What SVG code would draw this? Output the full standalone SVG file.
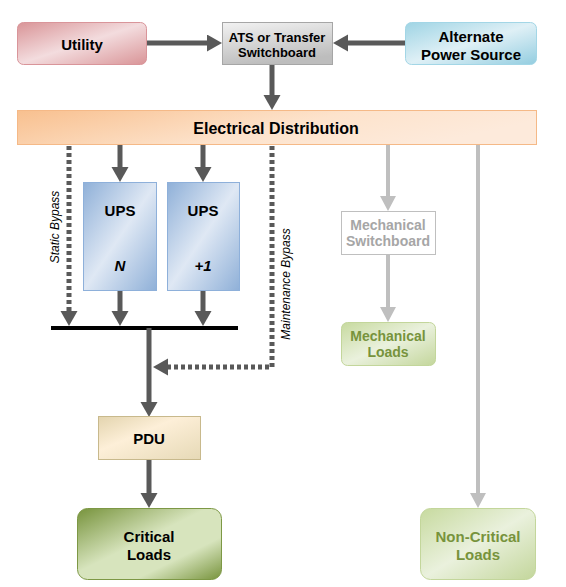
<svg xmlns="http://www.w3.org/2000/svg" width="566" height="587" viewBox="0 0 566 587">
<style>
text{font-family:"Liberation Sans",Arial,sans-serif;font-weight:bold;text-anchor:middle;dominant-baseline:central}
.t15{font-size:15px;fill:#000}
.t12{font-size:13px;fill:#000}
.side{font-size:12px;font-weight:normal;font-style:italic;fill:#000}
.dk{stroke:#595959;stroke-width:5;fill:none}
.dot{stroke:#595959;stroke-width:5;fill:none;stroke-dasharray:4 3}
.lt{stroke:#bfbfbf;stroke-width:4;fill:none}
</style>
<defs>
<linearGradient id="gUtil" x1="0" y1="0" x2="1" y2="1"><stop offset="0" stop-color="#d99497"/><stop offset="0.5" stop-color="#f3dcde"/><stop offset="1" stop-color="#d99497"/></linearGradient>
<linearGradient id="gAlt" x1="0" y1="0" x2="1" y2="1"><stop offset="0" stop-color="#9fd4e4"/><stop offset="0.5" stop-color="#dff0f6"/><stop offset="1" stop-color="#93cde0"/></linearGradient>
<linearGradient id="gAts" x1="0" y1="0" x2="0.3" y2="1"><stop offset="0" stop-color="#f2f2f2"/><stop offset="1" stop-color="#bdbdbd"/></linearGradient>
<linearGradient id="gBand" x1="0" y1="0" x2="1" y2="0.3"><stop offset="0" stop-color="#f8c08f"/><stop offset="0.6" stop-color="#fde3cc"/><stop offset="1" stop-color="#fdeadb"/></linearGradient>
<linearGradient id="gUps" x1="0" y1="0" x2="1" y2="1"><stop offset="0" stop-color="#8fb0d8"/><stop offset="0.5" stop-color="#dfe8f4"/><stop offset="1" stop-color="#8fb0d8"/></linearGradient>
<linearGradient id="gPdu" x1="0" y1="0" x2="1" y2="1"><stop offset="0" stop-color="#e3d4ae"/><stop offset="0.4" stop-color="#fdefd8"/><stop offset="1" stop-color="#e6d9b6"/></linearGradient>
<linearGradient id="gCrit" x1="0" y1="0" x2="1" y2="1"><stop offset="0" stop-color="#77933c"/><stop offset="0.45" stop-color="#d7e4bd"/><stop offset="0.7" stop-color="#d7e4bd"/><stop offset="1" stop-color="#77933c"/></linearGradient>
<linearGradient id="gNon" x1="0" y1="0" x2="1" y2="1"><stop offset="0" stop-color="#c7da9f"/><stop offset="0.5" stop-color="#eaf1dd"/><stop offset="1" stop-color="#c3d69b"/></linearGradient>
<marker id="aD" markerUnits="userSpaceOnUse" markerWidth="16" markerHeight="18" refX="0" refY="8.5" orient="auto"><path d="M0,0 L15,8.5 L0,17 z" fill="#595959"/></marker>
<marker id="aL" markerUnits="userSpaceOnUse" markerWidth="16" markerHeight="18" refX="0" refY="8" orient="auto"><path d="M0,0 L15,8 L0,16 z" fill="#bfbfbf"/></marker>
</defs>

<g id="connectors">
<line class="dk" x1="147" y1="43" x2="207" y2="43" marker-end="url(#aD)"/>
<line class="dk" x1="405" y1="43" x2="348" y2="43" marker-end="url(#aD)"/>
<line class="dk" x1="272" y1="65" x2="272" y2="95" marker-end="url(#aD)"/>
<line class="dk" x1="120" y1="145" x2="120" y2="167" marker-end="url(#aD)"/>
<line class="dk" x1="203" y1="145" x2="203" y2="167" marker-end="url(#aD)"/>
<line class="dk" x1="120" y1="290" x2="120" y2="311" marker-end="url(#aD)"/>
<line class="dk" x1="203" y1="290" x2="203" y2="311" marker-end="url(#aD)"/>
<polyline class="dot" points="69,146 69,311" marker-end="url(#aD)"/>
<polyline class="dot" points="272,146 272,367 168,367" marker-end="url(#aD)"/>
<line x1="51" y1="328" x2="238" y2="328" stroke="#000" stroke-width="4"/>
<line class="dk" x1="149" y1="328" x2="149" y2="402" marker-end="url(#aD)"/>
<line class="dk" x1="149" y1="460" x2="149" y2="493" marker-end="url(#aD)"/>
<line class="lt" x1="388" y1="145" x2="388" y2="196" marker-end="url(#aL)"/>
<line class="lt" x1="388" y1="254" x2="388" y2="307" marker-end="url(#aL)"/>
<line class="lt" x1="478" y1="145" x2="478" y2="493" marker-end="url(#aL)"/>
<text class="side" transform="translate(55,227) rotate(-90)">Static Bypass</text>
<text class="side" transform="translate(286,284) rotate(-90)">Maintenance Bypass</text>
</g>

<g id="utility">
<rect x="17.5" y="22.5" width="129" height="42" rx="6" fill="url(#gUtil)" stroke="#d9959a"/>
<text class="t15" x="82" y="44">Utility</text>
</g>
<g id="ats">
<rect x="222.5" y="22.5" width="110" height="42" fill="url(#gAts)" stroke="#a6a6a6"/>
<text class="t12" x="277" y="37">ATS or Transfer</text>
<text class="t12" x="277" y="52">Switchboard</text>
</g>
<g id="alternate">
<rect x="405.5" y="22.5" width="131" height="42" rx="6" fill="url(#gAlt)" stroke="#a3d6e6"/>
<text class="t15" x="471" y="36">Alternate</text>
<text class="t15" x="471" y="54">Power Source</text>
</g>
<g id="distribution">
<rect x="17.5" y="110.5" width="519" height="34" fill="url(#gBand)" stroke="#f5b987"/>
<text x="276" y="128" font-size="16" fill="#000">Electrical Distribution</text>
</g>
<g id="ups-n">
<rect x="83.5" y="182.5" width="73" height="108" fill="url(#gUps)" stroke="#8eb0da"/>
<text class="t15" x="120" y="210">UPS</text>
<text class="t15" x="120" y="265" font-style="italic">N</text>
</g>
<g id="ups-1">
<rect x="167.5" y="182.5" width="72" height="108" fill="url(#gUps)" stroke="#8eb0da"/>
<text class="t15" x="203" y="210">UPS</text>
<text class="t15" x="203" y="265" font-style="italic">+1</text>
</g>
<g id="mech-switchboard">
<rect x="341.5" y="211.5" width="94" height="43" fill="#fff" stroke="#bfbfbf"/>
<text x="388" y="225" font-size="14" fill="#a6a6a6">Mechanical</text>
<text x="388" y="241" font-size="14" fill="#a6a6a6">Switchboard</text>
</g>
<g id="mech-loads">
<rect x="341.5" y="322.5" width="94" height="43" rx="6" fill="url(#gNon)" stroke="#c3d69b"/>
<text x="388" y="336" font-size="14" fill="#77933c">Mechanical</text>
<text x="388" y="352" font-size="14" fill="#77933c">Loads</text>
</g>
<g id="pdu">
<rect x="98.5" y="416.5" width="102" height="43" fill="url(#gPdu)" stroke="#c8b98c"/>
<text class="t15" x="149" y="438">PDU</text>
</g>
<g id="critical-loads">
<rect x="77.5" y="508.5" width="144" height="71" rx="10" fill="url(#gCrit)" stroke="#7d9845"/>
<text class="t15" x="149" y="536">Critical</text>
<text class="t15" x="149" y="554">Loads</text>
</g>
<g id="non-critical-loads">
<rect x="420.5" y="508.5" width="115" height="71" rx="10" fill="url(#gNon)" stroke="#c3d69b"/>
<text x="478" y="536" font-size="15" fill="#77933c">Non-Critical</text>
<text x="478" y="554" font-size="15" fill="#77933c">Loads</text>
</g>
</svg>
